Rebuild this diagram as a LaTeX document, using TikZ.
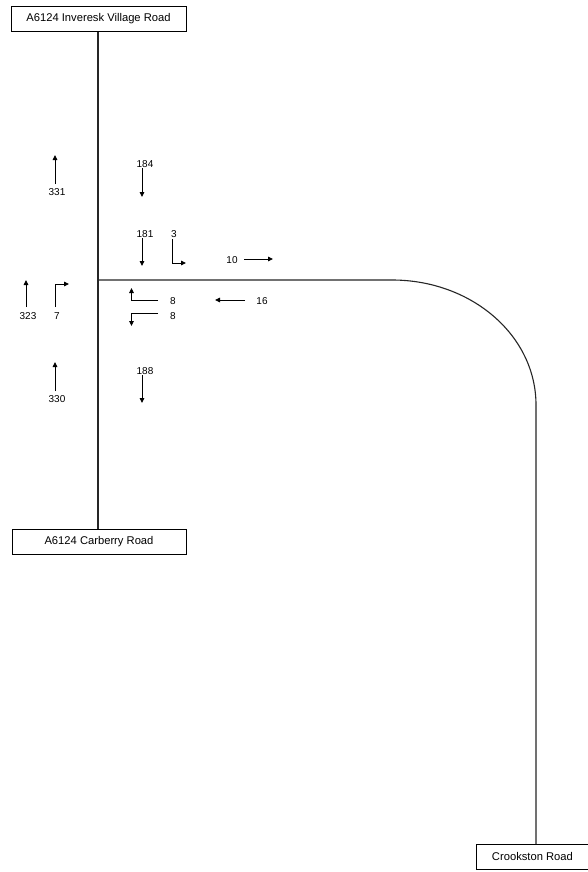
\documentclass[tikz,border=0pt]{standalone}
\usepackage{fontspec}
\setmainfont{Liberation Sans}
\usetikzlibrary{arrows.meta}
\begin{document}
\begin{tikzpicture}[x=1pt,y=-1pt,
  road/.style={line width=1.1pt,black!85},
  roadname/.style={draw,line width=0.9pt,minimum height=25pt,inner sep=0pt,font=\fontsize{11.2}{13}\selectfont},
  count/.style={inner sep=0pt,font=\fontsize{10}{12}\selectfont},
  flow/.style={line width=0.9pt,-{Triangle[length=5pt,width=4.5pt]}}]
\useasboundingbox[fill=white] (0,0) rectangle (587,872);

% road name boxes
\node[roadname,minimum width=175pt] (north) at (98.5,19) {A6124 Inveresk Village Road};
\node[roadname,minimum width=174pt] (south) at (99,542) {A6124 Carberry Road};
\node[roadname,minimum width=112pt,anchor=north west] (east) at (476,844) {Crookston Road};

% carriageway centre lines
\coordinate (jn) at (98,280);
\coordinate (bendA) at (392,280);
\coordinate (bendB) at (536,405);
\draw[road] (north.south -| jn) -- (south.north -| jn);
\draw[road] (jn) -- (bendA)
  .. controls (471.5,280) and (536,335.4) .. (bendB)
  -- (east.north -| bendB);

% turning counts
\node[count] (c331) at (57,192) {331};
\coordinate (a331s) at (55,184); \coordinate (a331e) at (55,155);
\draw[flow] (a331s) -- (a331e);

\node[count] (c184) at (145,164) {184};
\coordinate (a184s) at (142,168); \coordinate (a184e) at (142,197);
\draw[flow] (a184s) -- (a184e);

\node[count] (c181) at (145,234) {181};
\coordinate (a181s) at (142,238); \coordinate (a181e) at (142,266);
\draw[flow] (a181s) -- (a181e);

\node[count] (c3) at (174,234) {3};
\coordinate (a3s) at (172.5,239); \coordinate (a3k) at (172.5,263); \coordinate (a3e) at (186,263);
\draw[flow] (a3s) -- (a3k) -- (a3e);

\node[count] (c10) at (232,260) {10};
\coordinate (a10s) at (244,259); \coordinate (a10e) at (273,259);
\draw[flow] (a10s) -- (a10e);

\node[count] (c323) at (28,316) {323};
\coordinate (a323s) at (26,307); \coordinate (a323e) at (26,280);
\draw[flow] (a323s) -- (a323e);

\node[count] (c7) at (57,316) {7};
\coordinate (a7s) at (55,307); \coordinate (a7k) at (55,284); \coordinate (a7e) at (69,284);
\draw[flow] (a7s) -- (a7k) -- (a7e);

\node[count] (c8a) at (173,301) {8};
\coordinate (a8as) at (158,300); \coordinate (a8ak) at (131.5,300); \coordinate (a8ae) at (131.5,288);
\draw[flow] (a8as) -- (a8ak) -- (a8ae);

\node[count] (c8b) at (173,316) {8};
\coordinate (a8bs) at (158,313); \coordinate (a8bk) at (131.5,313); \coordinate (a8be) at (131.5,326);
\draw[flow] (a8bs) -- (a8bk) -- (a8be);

\node[count] (c16) at (262,301) {16};
\coordinate (a16s) at (245,300); \coordinate (a16e) at (215,300);
\draw[flow] (a16s) -- (a16e);

\node[count] (c330) at (57,399) {330};
\coordinate (a330s) at (55,391); \coordinate (a330e) at (55,362);
\draw[flow] (a330s) -- (a330e);

\node[count] (c188) at (145,371) {188};
\coordinate (a188s) at (142,375); \coordinate (a188e) at (142,403);
\draw[flow] (a188s) -- (a188e);
\end{tikzpicture}
\end{document}
